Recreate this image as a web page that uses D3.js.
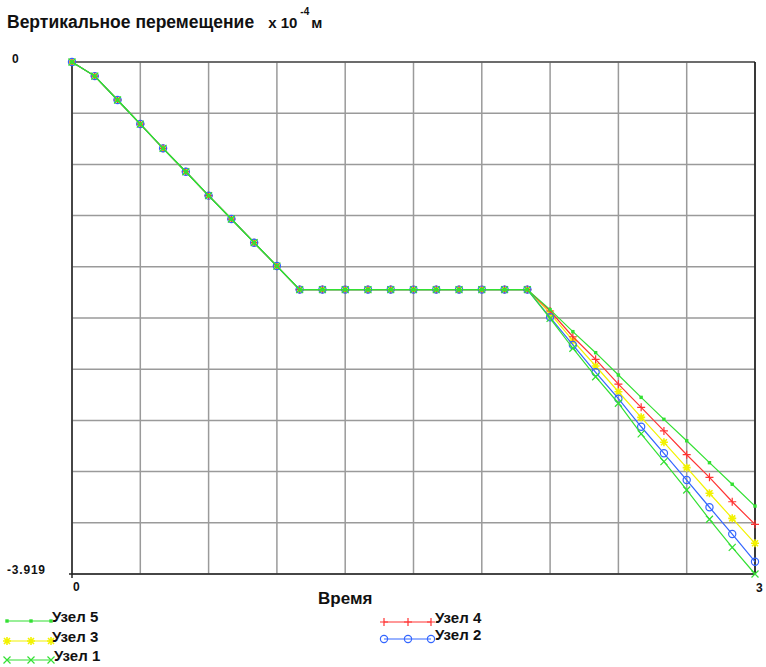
<!DOCTYPE html>
<html><head><meta charset="utf-8">
<script src="https://cdn.jsdelivr.net/npm/d3@7/dist/d3.min.js"></script>
<style>
html,body{margin:0;padding:0;background:#fff;}
svg{display:block;font-family:"Liberation Sans",Arial,sans-serif;}
</style></head>
<body>
<svg id="chart" width="766" height="667"></svg>
<script>
// ---- data ----
const times = [0,0.1,0.2,0.3,0.4,0.5,0.6,0.7,0.8,0.9,1.0,1.1,1.2,1.3,1.4,1.5,1.6,1.7,1.8,1.9,2.0,2.1,2.2,2.3,2.4,2.5,2.6,2.7,2.8,2.9,3.0];
const common = [0,-0.108,-0.291,-0.475,-0.661,-0.840,-1.023,-1.202,-1.383,-1.562,-1.742,-1.742,-1.742,-1.742,-1.742,-1.742,-1.742,-1.742,-1.742,-1.742,-1.742];
const tail5 = [-1.895,-2.064,-2.225,-2.396,-2.567,-2.735,-2.899,-3.067,-3.232,-3.399];
const tail4 = [-1.906,-2.103,-2.276,-2.466,-2.643,-2.824,-3.006,-3.179,-3.366,-3.539];
const tail3 = [-1.924,-2.133,-2.327,-2.524,-2.720,-2.911,-3.105,-3.301,-3.493,-3.684];
const tail2 = [-1.954,-2.166,-2.375,-2.577,-2.792,-2.995,-3.200,-3.408,-3.613,-3.825];
const tail1 = [-1.962,-2.191,-2.409,-2.612,-2.847,-3.059,-3.276,-3.500,-3.715,-3.919];
const seriesNames = ["Узел 1","Узел 2","Узел 3","Узел 4","Узел 5"];
const seriesTails = [tail1, tail2, tail3, tail4, tail5];
const seriesColors = ["#33e033","#3366ff","#f2f200","#ff3333","#33e033"];
const seriesMarkers = ["x","circle","star","plus","square"];
const drawOrder = [2, 3, 1, 0, 4];
const yTickLabels = ["0","-3.919"];
const xTickLabels = ["0","3"];
const yMin = -3.919, yMax = 0, xMin = 0, xMax = 3;

// ---- layout ----
const svg = d3.select("#chart");
const L = 72, R = 755, T = 62, B = 574;
const x = d3.scaleLinear().domain([xMin, xMax]).range([L, R]);
const y = d3.scaleLinear().domain([yMin, yMax]).range([B, T]);

// grid
const gx = d3.range(11).map(i => xMin + (xMax - xMin) * i / 10);
const gy = d3.range(11).map(i => yMin + (yMax - yMin) * i / 10);
svg.append("g").selectAll("line").data(gx).join("line")
  .attr("x1", d => x(d)).attr("x2", d => x(d)).attr("y1", T).attr("y2", B)
  .attr("stroke", "#9a9a9a").attr("stroke-width", 1.5);
svg.append("g").selectAll("line").data(gy).join("line")
  .attr("x1", L).attr("x2", R).attr("y1", d => y(d)).attr("y2", d => y(d))
  .attr("stroke", "#9a9a9a").attr("stroke-width", 1.5);
// frame
svg.append("line").attr("x1", L).attr("x2", R).attr("y1", T).attr("y2", T).attr("stroke", "#555").attr("stroke-width", 1.5);
svg.append("line").attr("x1", R).attr("x2", R).attr("y1", T).attr("y2", B).attr("stroke", "#111").attr("stroke-width", 1.5);
svg.append("line").attr("x1", L).attr("x2", L).attr("y1", T).attr("y2", B + 4).attr("stroke", "#222").attr("stroke-width", 1.5);
svg.append("line").attr("x1", L - 3).attr("x2", R).attr("y1", B).attr("y2", B).attr("stroke", "#222").attr("stroke-width", 1.5);

// markers
function markerPath(type, s) {
  if (type === "x") return `M${-s},${-s}L${s},${s}M${-s},${s}L${s},${-s}`;
  if (type === "plus") return `M${-s},0L${s},0M0,${-s}L0,${s}`;
  if (type === "star") return `M${-s},0L${s},0M0,${-s}L0,${s}M${-s*0.75},${-s*0.75}L${s*0.75},${s*0.75}M${-s*0.75},${s*0.75}L${s*0.75},${-s*0.75}`;
  return "";
}
function drawMarker(g, type, cx, cy, color) {
  if (type === "circle") {
    g.append("circle").attr("cx", cx).attr("cy", cy).attr("r", 3.6).attr("fill", "none").attr("stroke", color).attr("stroke-width", 1.2);
  } else if (type === "square") {
    g.append("rect").attr("x", cx - 1.7).attr("y", cy - 1.7).attr("width", 3.4).attr("height", 3.4).attr("fill", color);
  } else {
    const s = type === "x" ? 3.5 : 4;
    g.append("path").attr("d", markerPath(type, s)).attr("transform", `translate(${cx},${cy})`)
      .attr("stroke", color).attr("stroke-width", type === "star" ? 1.6 : 1.2).attr("fill", "none");
  }
}

const line = d3.line().x(d => x(d[0])).y(d => y(d[1]));
drawOrder.forEach(i => {
  const vals = common.concat(seriesTails[i]);
  const pts = times.map((t, k) => [t, vals[k]]);
  const g = svg.append("g");
  g.append("path").attr("d", line(pts)).attr("fill", "none").attr("stroke", seriesColors[i]).attr("stroke-width", 1.2);
  pts.forEach(p => drawMarker(g, seriesMarkers[i], x(p[0]), y(p[1]), seriesColors[i]));
});

// axis labels
function txt(s, px, py, size, anchor) {
  return svg.append("text").text(s).attr("x", px).attr("y", py)
    .attr("font-weight", "bold").attr("font-size", size).attr("fill", "#111")
    .attr("text-anchor", anchor || "start");
}
txt(yTickLabels[0], 12, y(0) + 1, "12px");
txt(yTickLabels[1], 7, y(yMin), "12px").attr("letter-spacing", "0.8");
txt(xTickLabels[0], x(0) + 1, B + 17, "12px");
txt(xTickLabels[1], x(3) + 1, B + 18, "12px");
txt("Время", 318, 604, "17px");

// title
const title = txt("Вертикальное перемещение", 7, 28, "17.5px");
title.append("tspan").text("x 10").attr("font-size", "15px").attr("dx", 14);
title.append("tspan").text("-4").attr("font-size", "10px").attr("dy", -13).attr("dx", 3);
title.append("tspan").text("м").attr("font-size", "15px").attr("dy", 13).attr("dx", 2);

// legend
const legendItems = [
  { i: 4, lx: 7, ly: 621, tx: 52 },
  { i: 2, lx: 7, ly: 641, tx: 52 },
  { i: 0, lx: 7, ly: 660, tx: 54 },
  { i: 3, lx: 384, ly: 622, tx: 435 },
  { i: 1, lx: 384, ly: 639, tx: 435 }
];
legendItems.forEach(it => {
  const g = svg.append("g");
  const c = seriesColors[it.i];
  const w = it.lx > 100 ? 47 : 44;
  g.append("line").attr("x1", it.lx).attr("x2", it.lx + w).attr("y1", it.ly).attr("y2", it.ly).attr("stroke", c).attr("stroke-width", 1.2);
  [0, 24, w].forEach(dx => drawMarker(g, seriesMarkers[it.i], it.lx + dx, it.ly, c));
  txt(seriesNames[it.i], it.tx, it.ly + 1, "15px");
});
</script>
</body></html>
